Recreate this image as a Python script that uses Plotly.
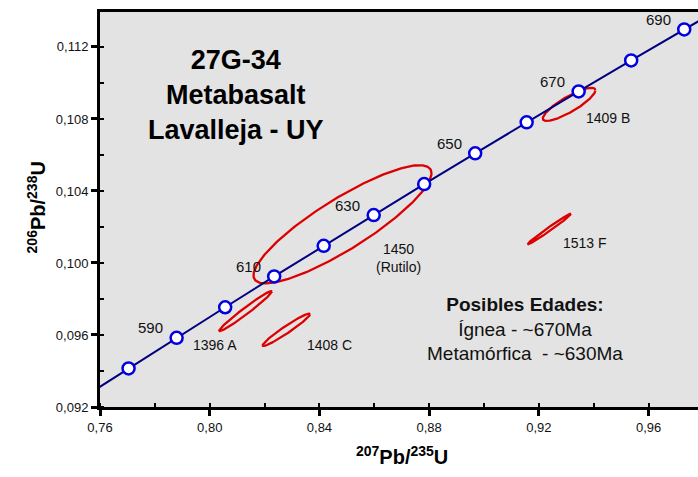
import numpy as np
import plotly.graph_objects as go

# Concordia (ages in Ma) and its 207Pb/235U, 206Pb/238U coordinates
ages = [570, 580, 590, 600, 610, 620, 630, 640, 650, 660, 670, 680, 690, 700]
conc_x = [0.75306, 0.77041, 0.78793, 0.80563, 0.82350, 0.84155, 0.85978, 0.87818,
          0.89677, 0.91554, 0.93450, 0.95364, 0.97298, 0.99250]
conc_y = [0.09245, 0.09414, 0.09584, 0.09754, 0.09925, 0.10095, 0.10266, 0.10438,
          0.10609, 0.10781, 0.10953, 0.11125, 0.11297, 0.11470]
marker_ages = [580, 590, 600, 610, 620, 630, 640, 650, 660, 670, 680, 690]
label_ages = [590, 610, 630, 650, 670, 690]

# Error ellipses: centre, half-widths, correlation
ell_names = ["1396 A", "1408 C", "1450 (Rutilo)", "1409 B", "1513 F"]
ell_cx = [0.81309, 0.82793, 0.84840, 0.93101, 0.92383]
ell_cy = [0.09733, 0.09629, 0.10215, 0.10881, 0.10189]
ell_sx = [0.00959, 0.00864, 0.03245, 0.00959, 0.00791]
ell_sy = [0.00111, 0.00090, 0.00328, 0.00092, 0.00085]
ell_rho = [0.98, 0.965, 0.865, 0.85, 0.99]

FONT = "Liberation Sans, Arial, sans-serif"
NARROW = "Liberation Sans Narrow, Arial Narrow, Liberation Sans, Arial, sans-serif"

fig = go.Figure()

# ellipses
theta = np.linspace(0, 2 * np.pi, 241)
for cx, cy, sx, sy, r in zip(ell_cx, ell_cy, ell_sx, ell_sy, ell_rho):
    ex = cx + sx * np.cos(theta)
    ey = cy + sy * (r * np.cos(theta) + np.sqrt(1 - r * r) * np.sin(theta))
    fig.add_trace(go.Scatter(x=ex, y=ey, mode="lines",
                             line=dict(color="#dd0000", width=2.3),
                             hoverinfo="skip", showlegend=False))

# concordia line
fig.add_trace(go.Scatter(x=conc_x, y=conc_y, mode="lines",
                         line=dict(color="#000080", width=2),
                         showlegend=False, hoverinfo="skip"))
mx = [conc_x[ages.index(a)] for a in marker_ages]
my = [conc_y[ages.index(a)] for a in marker_ages]
fig.add_trace(go.Scatter(x=mx, y=my, mode="markers",
                         marker=dict(size=12, color="white",
                                     line=dict(color="#0000e0", width=2.5)),
                         showlegend=False, cliponaxis=False))

ann = []
for a in label_ages:
    i = ages.index(a)
    ann.append(dict(x=conc_x[i], y=conc_y[i], text=str(a), showarrow=False,
                    xshift=-26, yshift=10, font=dict(family=FONT, size=15, color="#111")))

# ellipse labels
lab_pos = {"1396 A": (0.8020, 0.09543), "1408 C": (0.8436, 0.09543),
           "1450 (Rutilo)": (0.8688, 0.10026), "1409 B": (0.94523, 0.10807),
           "1513 F": (0.93696, 0.10109)}
for n in ell_names:
    x, y = lab_pos[n]
    t = n.replace(" (", "<br>(")
    ann.append(dict(x=x, y=y, text=t, showarrow=False,
                    font=dict(family=NARROW, size=14, color="#111")))

# title block
ann.append(dict(x=0.8097, y=0.10932, text="<b>27G-34<br>Metabasalt<br>Lavalleja - UY</b>",
                showarrow=False, font=dict(family=FONT, size=27, color="black")))
# possible ages
ann.append(dict(x=0.9151, y=0.09631,
                text="<b>Posibles Edades:</b><br>Ígnea - ~670Ma<br>Metamórfica \u00a0- ~630Ma",
                showarrow=False, font=dict(family=FONT, size=19, color="#111")))
# axis titles
ann.append(dict(xref="paper", yref="paper", x=0.505, y=0, yshift=-63, showarrow=False,
                text="<b><sup>207</sup>Pb/<sup>235</sup>U</b>",
                font=dict(family=FONT, size=20, color="black")))
ann.append(dict(xref="paper", yref="paper", x=0, y=0.504, xshift=-78, showarrow=False,
                textangle=-90, text="<b><sup>206</sup>Pb/<sup>238</sup>U</b>",
                font=dict(family=FONT, size=20, color="black")))

fig.update_layout(
    width=698, height=477,
    margin=dict(l=100, r=0, t=12, b=70),
    paper_bgcolor="white", plot_bgcolor="#e3e3e3",
    separators=",.",
    annotations=ann,
    xaxis=dict(range=[0.76, 0.978], tick0=0.76, dtick=0.04, tickformat=".2f",
               showgrid=False, zeroline=False, showline=True, linecolor="black",
               linewidth=3, mirror=True, ticks="outside", ticklen=6, tickwidth=2.5,
               tickcolor="black", tickfont=dict(family=FONT, size=13, color="#111"),
               minor=dict(dtick=0.02, tick0=0.76, ticks="inside", ticklen=4,
                          tickwidth=2, tickcolor="black", showgrid=False)),
    yaxis=dict(range=[0.092, 0.11394], tick0=0.092, dtick=0.004, tickformat=".3f",
               showgrid=False, zeroline=False, showline=True, linecolor="black",
               linewidth=3, ticks="outside", ticklen=6, tickwidth=2.5,
               tickcolor="black", tickfont=dict(family=FONT, size=13, color="#111"),
               minor=dict(dtick=0.002, tick0=0.092, ticks="inside", ticklen=4,
                          tickwidth=2, tickcolor="black", showgrid=False)),
)

fig.write_html("out.html")
